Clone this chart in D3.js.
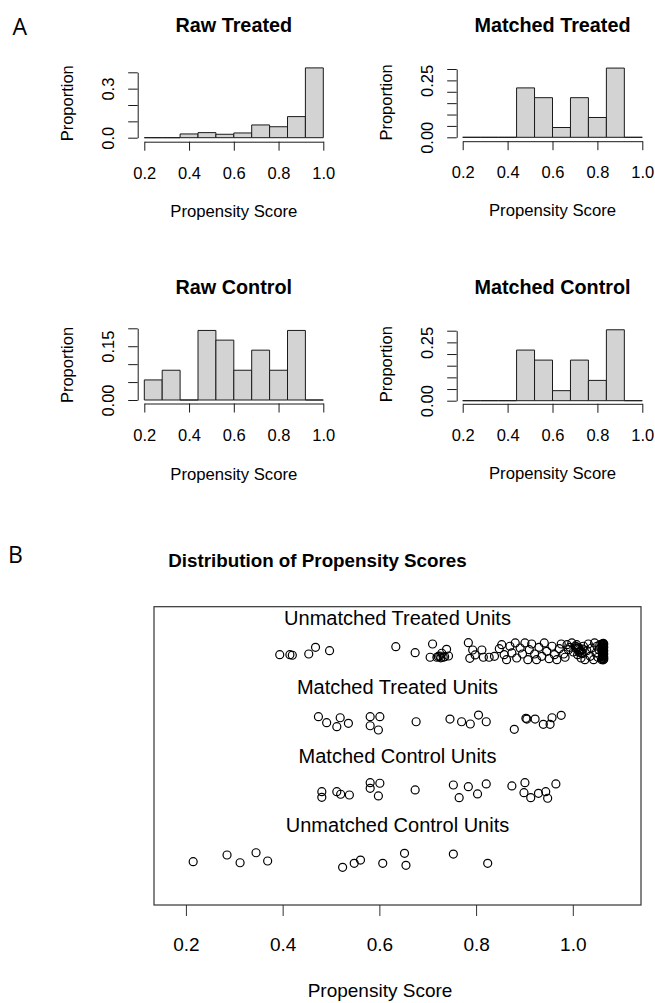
<!DOCTYPE html>
<html>
<head>
<meta charset="utf-8">
<script src="https://cdn.jsdelivr.net/npm/d3@7"></script>
<style>
  body { margin: 0; background: #fff; }
  svg text { font-family: "Liberation Sans", Arial, Helvetica, sans-serif; fill: #000; }
  .panel-letter { font-family: "Open Sans", "DejaVu Sans", sans-serif; }
</style>
</head>
<body>
<svg id="chart" width="655" height="1003"></svg>
<script>
// ---- data ----
const binEdges = [0.2, 0.28, 0.36, 0.44, 0.52, 0.60, 0.68, 0.76, 0.84, 0.92, 1.0];
const rawTreated     = [0, 0, 0.023, 0.031, 0.021, 0.029, 0.078, 0.067, 0.129, 0.427];
const matchedTreated = [0, 0, 0, 0.217, 0.174, 0.043, 0.174, 0.087, 0.304, 0];
const rawControl     = [0.056, 0.083, 0, 0.194, 0.167, 0.083, 0.139, 0.083, 0.194, 0];
const matchedControl = [0, 0, 0, 0.217, 0.174, 0.043, 0.174, 0.087, 0.304, 0];
const xTicks = [0.2, 0.4, 0.6, 0.8, 1.0];

// jitter plot: [propensity score, vertical jitter]
const unmatchedTreated = [
  [0.394,-0.035],[0.415,-0.035],[0.420,-0.043],[0.454,-0.025],[0.468,0.072],[0.497,0.023],
  [0.634,0.081],[0.674,-0.006],
  [0.710,0.120],[0.705,-0.072],[0.719,-0.072],[0.725,-0.054],[0.732,-0.072],[0.739,0.043],
  [0.743,-0.054],[0.729,-0.014],[0.722,-0.060],[0.735,-0.065],[0.727,-0.080],
  [0.784,0.139],[0.793,0.033],[0.787,-0.087],[0.812,0.033],[0.815,-0.072],[0.798,-0.039],[0.827,-0.072],
  [0.838,-0.058],[0.848,0.052],[0.853,0.110],[0.858,-0.035],[0.863,-0.107],[0.870,0.087],[0.874,-0.010],
  [0.881,0.135],[0.884,-0.083],[0.891,0.062],[0.896,-0.025],[0.901,0.135],[0.907,-0.107],[0.910,0.038],
  [0.915,0.120],[0.921,-0.025],[0.925,-0.107],[0.930,0.072],[0.936,-0.058],[0.941,0.135],[0.946,0.014],
  [0.951,-0.093],[0.957,0.087],[0.962,-0.035],[0.967,-0.107],[0.972,0.052],[0.976,0.120],[0.981,-0.025],
  [0.984,-0.072],
  [0.988,0.110],[0.991,0.038],[0.994,0.072],[0.998,0.135],[1.001,0.004],[1.005,0.087],[1.008,0.110],
  [1.010,-0.035],[1.013,0.038],[1.017,-0.083],[1.019,-0.010],[1.022,0.087],[1.025,-0.107],[1.029,0.023],
  [1.032,0.120],[1.036,-0.058],
  [1.010,0.050],[1.013,0.000],[1.017,0.030],[1.019,-0.020],[1.008,0.080],[1.012,0.065],[1.015,0.015],
  [1.006,0.060],[1.021,0.045],
  [1.039,0.062],[1.043,-0.107],[1.045,0.135],[1.048,-0.010],[1.050,0.087],[1.052,-0.072],[1.054,0.038],
  [1.056,0.110],
  [1.060,0.110],[1.062,0.087],[1.061,0.062],[1.063,0.038],[1.060,0.014],[1.062,-0.010],[1.063,-0.035],
  [1.061,-0.058],[1.062,-0.083],[1.060,-0.107],[1.064,0.120],[1.064,0.072],[1.064,0.023],[1.064,-0.025],
  [1.064,-0.072],[1.063,0.098],[1.061,0.048],[1.062,0.000],[1.063,-0.047],[1.061,-0.095],[1.064,-0.100],
  [1.063,0.130],
  [1.062,0.115],[1.061,0.075],[1.063,0.055],[1.062,0.025],[1.061,-0.020],[1.063,-0.065],[1.062,-0.090],
  [1.061,0.030],[1.063,0.005],[1.062,-0.045],[1.061,0.120],[1.063,-0.110]
];
const matchedTreatedUnits = [
  [0.474,0.067],[0.491,-0.020],[0.512,-0.078],[0.519,0.052],[0.536,-0.029],[0.581,0.067],[0.601,0.067],
  [0.581,-0.064],[0.598,-0.126],[0.676,-0.006],[0.746,0.033],[0.770,-0.006],[0.788,-0.039],[0.805,0.091],
  [0.821,-0.006],[0.879,-0.116],[0.903,0.043],[0.905,0.033],[0.922,0.033],[0.939,-0.043],[0.953,-0.043],
  [0.957,0.052],[0.976,0.087]
];
const matchedControlUnits = [
  [0.481,-0.019],[0.481,-0.100],[0.512,-0.019],[0.520,-0.056],[0.538,-0.067],[0.581,0.112],[0.601,0.103],
  [0.581,0.030],[0.598,-0.081],[0.674,0.006],[0.753,0.078],[0.765,-0.106],[0.784,0.054],[0.803,-0.052],
  [0.821,0.093],[0.874,0.064],[0.901,0.112],[0.899,-0.033],[0.913,-0.106],[0.929,-0.042],[0.944,-0.019],
  [0.948,-0.114],[0.965,0.093]
];
const unmatchedControl = [
  [0.215,-0.033],[0.285,0.064],[0.312,-0.048],[0.345,0.097],[0.369,-0.023],[0.524,-0.114],[0.548,-0.056],
  [0.561,-0.009],[0.607,-0.056],[0.652,0.088],[0.655,-0.085],[0.753,0.078],[0.824,-0.056]
];

// ---- layout ----
const histPanels = [
  { title: "Raw Treated", values: rawTreated, x0: 144.3, x1: 323.3, y0: 137.7, yTop: 72.3, yMax: 0.4,
    yTicks: [0, 0.1, 0.2, 0.3, 0.4], yLabeled: [0, 0.3], fmt: ".1f",
    yAxisX: 137.7, xAxisY: 141.7, titleY: 31.7, xlabY: 216.7, ylabY: 103.3 },
  { title: "Matched Treated", values: matchedTreated, x0: 462.7, x1: 642.3, y0: 137.3, yTop: 69, yMax: 0.3,
    yTicks: [0, 0.05, 0.1, 0.15, 0.2, 0.25, 0.3], yLabeled: [0, 0.25], fmt: ".2f",
    yAxisX: 456.7, xAxisY: 141.2, titleY: 31.7, xlabY: 216, ylabY: 102.5 },
  { title: "Raw Control", values: rawControl, x0: 144.3, x1: 323.3, y0: 400, yTop: 328.3, yMax: 0.2,
    yTicks: [0, 0.05, 0.1, 0.15, 0.2], yLabeled: [0, 0.15], fmt: ".2f",
    yAxisX: 137.7, xAxisY: 403.5, titleY: 294, xlabY: 479.5, ylabY: 365 },
  { title: "Matched Control", values: matchedControl, x0: 462.7, x1: 642.3, y0: 400.7, yTop: 330.7, yMax: 0.3,
    yTicks: [0, 0.05, 0.1, 0.15, 0.2, 0.25, 0.3], yLabeled: [0, 0.25], fmt: ".2f",
    yAxisX: 456.7, xAxisY: 403.8, titleY: 294, xlabY: 479, ylabY: 364.2 }
];

const svg = d3.select("#chart");
const ink = "#1a1a1a";

svg.append("text").attr("class", "panel-letter")
  .attr("x", 12.5).attr("y", 35).attr("font-size", 23).text("A");
svg.append("text").attr("class", "panel-letter")
  .attr("x", 8).attr("y", 563).attr("font-size", 23).text("B");

function histPanel(p) {
  const g = svg.append("g");
  const x = d3.scaleLinear().domain([0.2, 1.0]).range([p.x0, p.x1]);
  const y = d3.scaleLinear().domain([0, p.yMax]).range([p.y0, p.yTop]);
  const bins = p.values.map((v, i) => ({ lo: binEdges[i], hi: binEdges[i + 1], v }));

  // paths so that empty bins still show as a flat line
  g.selectAll("path.bar")
    .data(bins)
    .enter().append("path")
    .attr("class", "bar")
    .attr("d", d => `M${x(d.lo)},${y(0)}V${y(d.v)}H${x(d.hi)}V${y(0)}Z`)
    .attr("fill", "#d3d3d3")
    .attr("stroke", ink)
    .attr("stroke-width", 1);

  const gx = g.append("g")
    .attr("transform", `translate(0,${p.xAxisY})`)
    .style("color", ink)
    .call(d3.axisBottom(x).tickValues(xTicks).tickSize(9).tickSizeOuter(0).tickFormat(d3.format(".1f")));
  gx.attr("font-size", null).attr("font-family", null);
  gx.selectAll(".tick text").attr("y", 37).attr("dy", null).attr("font-size", 16.5);

  const fmt = d3.format(p.fmt);
  const gy = g.append("g")
    .attr("transform", `translate(${p.yAxisX},0)`)
    .style("color", ink)
    .call(d3.axisLeft(y).tickValues(p.yTicks).tickSize(9.5).tickSizeOuter(0)
      .tickFormat(d => p.yLabeled.includes(d) ? fmt(d) : ""));
  gy.attr("font-size", null).attr("font-family", null);
  gy.selectAll(".tick text")
    .attr("x", null).attr("dy", null)
    .attr("text-anchor", "middle")
    .attr("dominant-baseline", "central")
    .attr("font-size", 16.5)
    .attr("transform", "translate(-30,0) rotate(-90)");

  const cx = (p.x0 + p.x1) / 2;
  g.append("text")
    .attr("x", cx).attr("y", p.titleY)
    .attr("text-anchor", "middle")
    .attr("font-weight", "bold").attr("font-size", 19.8)
    .text(p.title);
  g.append("text")
    .attr("x", cx).attr("y", p.xlabY)
    .attr("text-anchor", "middle").attr("font-size", 16.7)
    .text("Propensity Score");
  g.append("text")
    .attr("transform", `translate(${p.yAxisX - 71},${p.ylabY}) rotate(-90)`)
    .attr("text-anchor", "middle").attr("dominant-baseline", "central")
    .attr("font-size", 16.5)
    .text("Proportion");
}

histPanels.forEach(histPanel);

// ---- panel B: jitter plot ----
const bx = d3.scaleLinear().domain([0.134, 1.141]).range([154, 641]);
const by = d3.scaleLinear().domain([0.34, 4.66]).range([905, 606.7]);

const rows = [
  { label: "Unmatched Treated Units", level: 4, pts: unmatchedTreated },
  { label: "Matched Treated Units", level: 3, pts: matchedTreatedUnits },
  { label: "Matched Control Units", level: 2, pts: matchedControlUnits },
  { label: "Unmatched Control Units", level: 1, pts: unmatchedControl }
];

const gb = svg.append("g");
gb.append("text")
  .attr("x", 317.5).attr("y", 566.7)
  .attr("text-anchor", "middle")
  .attr("font-weight", "bold").attr("font-size", 18.8)
  .text("Distribution of Propensity Scores");

const [bl, br] = bx.range();
const [bb, bt] = by.range();
gb.append("rect")
  .attr("x", bl).attr("y", bt)
  .attr("width", br - bl).attr("height", bb - bt)
  .attr("fill", "none").attr("stroke", "#333").attr("stroke-width", 1.2);

rows.forEach(r => {
  gb.append("text")
    .attr("x", (bl + br) / 2).attr("y", by(r.level + 0.5))
    .attr("text-anchor", "middle").attr("dominant-baseline", "central")
    .attr("font-size", 20)
    .text(r.label);
  gb.append("g").selectAll("circle")
    .data(r.pts)
    .enter().append("circle")
    .attr("cx", d => bx(d[0]))
    .attr("cy", d => by(r.level + d[1]))
    .attr("r", 4)
    .attr("fill", "none")
    .attr("stroke", "#000")
    .attr("stroke-width", 1.2);
});

const gbx = gb.append("g")
  .attr("transform", `translate(0,${bb})`)
  .style("color", "#333")
  .call(d3.axisBottom(bx).tickValues(xTicks).tickSize(11).tickSizeOuter(0).tickFormat(d3.format(".1f")));
gbx.select(".domain").remove();
gbx.attr("font-size", null).attr("font-family", null);
gbx.selectAll(".tick text").attr("y", 46).attr("dy", null).attr("font-size", 19).style("fill", "#000");

gb.append("text")
  .attr("x", 380).attr("y", 997)
  .attr("text-anchor", "middle").attr("font-size", 19)
  .text("Propensity Score");
</script>
</body>
</html>
